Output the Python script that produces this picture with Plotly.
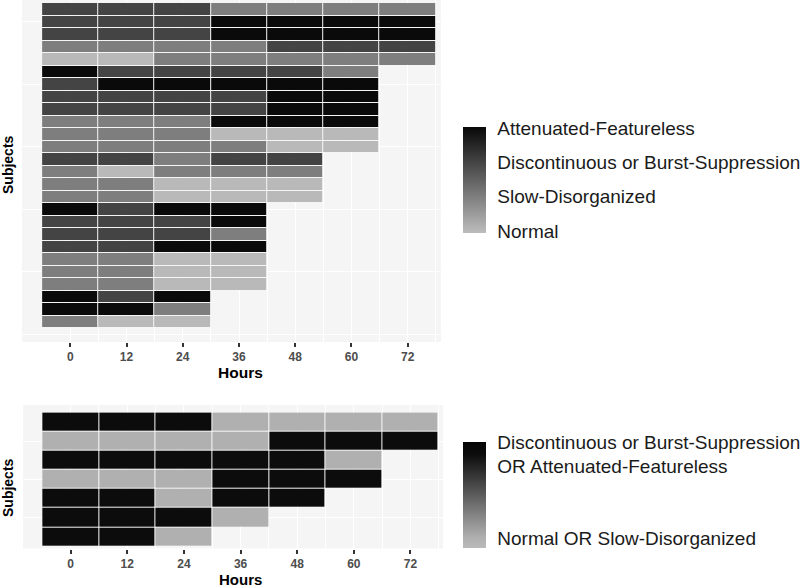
import plotly.graph_objects as go

hours = [0, 12, 24, 36, 48, 60, 72]
N = None

# Top panel: EEG category per subject (1=Normal, 2=Slow-Disorganized,
# 3=Discontinuous or Burst-Suppression, 4=Attenuated-Featureless)
top_levels = [
    [3, 3, 3, 2, 2, 2, 2],
    [3, 3, 3, 4, 4, 4, 4],
    [3, 3, 3, 4, 4, 4, 4],
    [2, 2, 2, 2, 3, 3, 3],
    [1, 1, 2, 2, 2, 2, 2],
    [4, 3, 3, 3, 3, 2, N],
    [3, 4, 4, 4, 4, 4, N],
    [3, 3, 3, 3, 4, 4, N],
    [3, 3, 3, 3, 4, 4, N],
    [2, 2, 2, 4, 4, 4, N],
    [2, 2, 2, 1, 1, 1, N],
    [2, 2, 2, 2, 1, 1, N],
    [3, 3, 2, 3, 3, N, N],
    [2, 1, 2, 2, 2, N, N],
    [2, 2, 1, 1, 1, N, N],
    [2, 2, 1, 1, 1, N, N],
    [4, 3, 4, 4, N, N, N],
    [3, 3, 3, 4, N, N, N],
    [3, 3, 3, 2, N, N, N],
    [3, 3, 4, 4, N, N, N],
    [2, 2, 1, 1, N, N, N],
    [2, 2, 1, 1, N, N, N],
    [2, 2, 1, 1, N, N, N],
    [4, 3, 4, N, N, N, N],
    [4, 4, 2, N, N, N, N],
    [2, 1, 1, N, N, N, N],
]
top_subjects = list(range(1, len(top_levels) + 1))
top_tickvals = [1, 2, 3, 4]
top_ticktext = ["Normal", "Slow-Disorganized",
                "Discontinuous or Burst-Suppression", "Attenuated-Featureless"]

# Bottom panel: binary category (0=Normal OR Slow-Disorganized, 1=Discontinuous/BS OR Attenuated)
bottom_levels = [
    [1, 1, 1, 0, 0, 0, 0],
    [0, 0, 0, 0, 1, 1, 1],
    [1, 1, 1, 1, 1, 0, N],
    [0, 0, 0, 1, 1, 1, N],
    [1, 1, 0, 1, 1, N, N],
    [1, 1, 1, 0, N, N, N],
    [1, 1, 0, N, N, N, N],
]
bottom_subjects = list(range(1, len(bottom_levels) + 1))
bottom_tickvals = [0, 1]
bottom_ticktext = ["Normal OR Slow-Disorganized",
                   "Discontinuous or Burst-Suppression<br>OR Attenuated-Featureless"]

FONT = "Liberation Sans, Arial, sans-serif"
W, H = 800, 587


def px_x(p):
    return p / W


def px_y(p):
    return 1 - p / H


fig = go.Figure()

fig.add_trace(go.Heatmap(
    x=hours, y=top_subjects, z=top_levels,
    xaxis="x", yaxis="y",
    zmin=0.94, zmax=4.04,
    colorscale=[[0, "rgb(188,188,188)"], [1, "rgb(8,8,8)"]],
    xgap=1, ygap=1, hoverongaps=False,
    colorbar=dict(
        x=px_x(463), xanchor="left", xpad=0,
        y=px_y(180), yanchor="middle", ypad=0,
        lenmode="pixels", len=106,
        thickness=23, thicknessmode="pixels",
        outlinewidth=0,
        tickmode="array", tickvals=top_tickvals, ticktext=top_ticktext,
        ticks="outside", ticklen=8, tickcolor="rgba(0,0,0,0)",
        tickfont=dict(family=FONT, size=19, color="#1a1a1a"),
    ),
))

fig.add_trace(go.Heatmap(
    x=hours, y=bottom_subjects, z=bottom_levels,
    xaxis="x2", yaxis="y2",
    zmin=-0.12, zmax=1.146,
    colorscale=[[0, "rgb(186,186,186)"], [0.0948, "rgb(176,176,176)"],
                [0.8847, "rgb(12,12,12)"], [1, "rgb(5,5,5)"]],
    xgap=1, ygap=1, hoverongaps=False,
    colorbar=dict(
        x=px_x(463), xanchor="left", xpad=0,
        y=px_y(495), yanchor="middle", ypad=0,
        lenmode="pixels", len=106,
        thickness=23, thicknessmode="pixels",
        outlinewidth=0,
        tickmode="array", tickvals=bottom_tickvals, ticktext=bottom_ticktext,
        ticks="outside", ticklen=8, tickcolor="rgba(0,0,0,0)",
        tickfont=dict(family=FONT, size=19, color="#1a1a1a"),
    ),
))

xcommon = dict(
    tickmode="array", tickvals=hours,
    ticks="outside", ticklen=4, tickwidth=2, tickcolor="#333333",
    tickfont=dict(family=FONT, size=12, color="#4d4d4d", weight="bold"),
    showgrid=True, gridcolor="white", gridwidth=1.3,
    minor=dict(tickmode="array", tickvals=[6, 18, 30, 42, 54, 66, 78],
               showgrid=True, gridcolor="white", gridwidth=0.6, ticks=""),
    zeroline=False, showline=False,
)

fig.update_layout(
    width=W, height=H,
    margin=dict(l=0, r=0, t=0, b=0, autoexpand=False),
    paper_bgcolor="white",
    plot_bgcolor="#f5f5f5",
    font=dict(family=FONT),
    xaxis=dict(domain=[px_x(22), px_x(441)], range=[-10.3, 79.1], anchor="y", **xcommon),
    yaxis=dict(domain=[px_y(342), 1], range=[27.6, 0.26], anchor="x",
               tickmode="array", tickvals=[7, 17, 27], showticklabels=False, ticks="",
               showgrid=True, gridcolor="white", gridwidth=1.3,
               minor=dict(tickmode="array", tickvals=[2, 12, 22], showgrid=True,
                          gridcolor="white", gridwidth=0.6),
               zeroline=False),
    xaxis2=dict(domain=[px_x(23), px_x(443)], range=[-10.1, 78.9], anchor="y2", **xcommon),
    yaxis2=dict(domain=[px_y(548.5), px_y(405)], range=[7.62, 0.1], anchor="x2",
                tickmode="array", tickvals=[2, 4, 6], showticklabels=False, ticks="",
                showgrid=True, gridcolor="white", gridwidth=1.3,
                zeroline=False),
    annotations=[
        dict(text="<b>Subjects</b>", x=px_x(8), y=px_y(165), xref="paper", yref="paper",
             xanchor="center", yanchor="middle",
             textangle=-90, showarrow=False, font=dict(family=FONT, size=14, color="black")),
        dict(text="<b>Subjects</b>", x=px_x(8), y=px_y(488), xref="paper", yref="paper",
             xanchor="center", yanchor="middle",
             textangle=-90, showarrow=False, font=dict(family=FONT, size=14, color="black")),
        dict(text="<b>Hours</b>", x=px_x(240), y=px_y(372), xref="paper", yref="paper",
             xanchor="center", yanchor="middle",
             showarrow=False, font=dict(family=FONT, size=15.5, color="black")),
        dict(text="<b>Hours</b>", x=px_x(240), y=px_y(579), xref="paper", yref="paper",
             xanchor="center", yanchor="middle",
             showarrow=False, font=dict(family=FONT, size=15, color="black")),
    ],
)

fig.write_html("out.html", config={"displayModeBar": False},
               post_script="document.body.style.margin='0';document.body.style.overflow='hidden';")
